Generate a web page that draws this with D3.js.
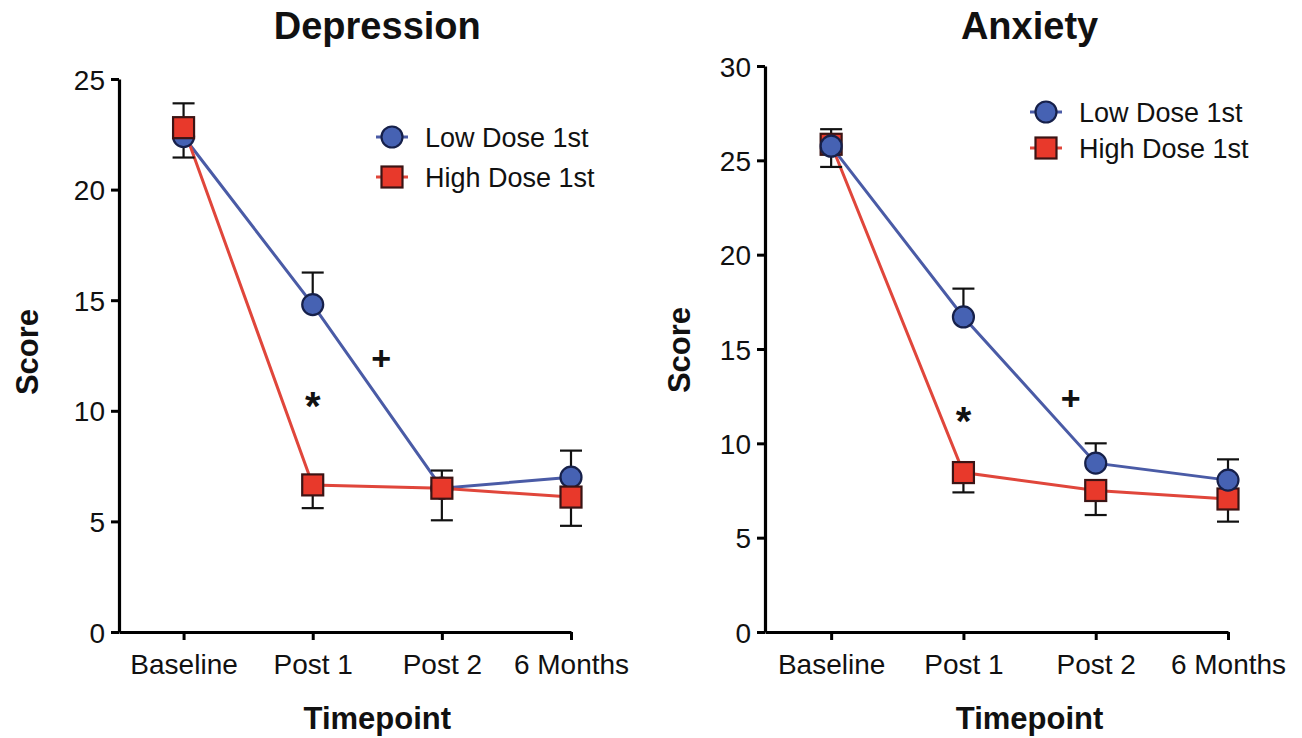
<!DOCTYPE html>
<html>
<head>
<meta charset="utf-8">
<script src="https://cdn.jsdelivr.net/npm/d3@7"></script>
<style>
  html, body { margin: 0; padding: 0; background: #fff; }
  svg { display: block; }
  text { font-family: "Liberation Sans", Arial, Helvetica, sans-serif; fill: #111; }
</style>
</head>
<body>
<svg id="chart" width="1302" height="738"></svg>
<script>
// ---------- data ----------
const timepoints = ["Baseline", "Post 1", "Post 2", "6 Months"];
const seriesNames = ["Low Dose 1st", "High Dose 1st"];

// Depression panel
const depressionLow = [22.4, 14.8, 6.5, 7.0];
const depressionLowErr = [1.5, 1.45, 0.8, 1.2];      // drawn upward
const depressionHigh = [22.8, 6.65, 6.5, 6.1];
const depressionHighErr = [1.35, 1.05, 1.45, 1.3];   // drawn downward
const depressionTicks = [0, 5, 10, 15, 20, 25];

// Anxiety panel
const anxietyLow = [25.75, 16.7, 8.95, 8.05];
const anxietyLowErr = [0.9, 1.5, 1.05, 1.1];
const anxietyHigh = [25.85, 8.45, 7.5, 7.05];
const anxietyHighErr = [1.2, 1.05, 1.3, 1.2];
const anxietyTicks = [0, 5, 10, 15, 20, 25, 30];

// significance marks: [category index position, value]
const depressionMarks = [{ label: "*", x: 1, y: 10.9 }, { label: "+", x: 1.53, y: 12.4 }];
const anxietyMarks = [{ label: "*", x: 1, y: 11.95 }, { label: "+", x: 1.81, y: 12.4 }];

// ---------- styles ----------
const BLUE_LINE = "#4a5ba6", BLUE_FILL = "#4662b3", BLUE_STROKE = "#16204a";
const RED_LINE = "#e0463b", RED_FILL = "#e8392b", RED_STROKE = "#3b1414";

const svg = d3.select("#chart");

function drawPanel(cfg) {
  const g = svg.append("g");
  const x = d3.scaleLinear().domain([-0.5, timepoints.length - 1]).range([cfg.left, cfg.right]);
  const y = d3.scaleLinear().domain([0, cfg.ymax]).range([cfg.bottom, cfg.top]);

  // axes
  const yAxis = d3.axisLeft(y).tickValues(cfg.ticks).tickSize(8).tickPadding(6).tickSizeOuter(0);
  const ya = g.append("g").attr("transform", `translate(${cfg.left},0)`).call(yAxis);
  const xAxis = d3.axisBottom(x).tickValues(d3.range(timepoints.length))
    .tickFormat(i => timepoints[i]).tickSize(8).tickPadding(12).tickSizeOuter(0);
  const xa = g.append("g").attr("transform", `translate(0,${cfg.bottom})`).call(xAxis);
  [ya, xa].forEach(a => {
    a.select(".domain").attr("stroke", "#000").attr("stroke-width", 3.2);
    a.selectAll(".tick line").attr("stroke", "#000").attr("stroke-width", 3);
    a.selectAll(".tick text").style("font-size", "28px").attr("fill", "#111")
      .style("font-family", '"Liberation Sans", Arial, sans-serif');
  });
  ya.selectAll(".tick text").attr("dy", "0.36em");
  xa.selectAll(".tick text").attr("dy", "0.78em");

  const cx0 = x(0), cx1 = x(timepoints.length - 1), cmid = (cx0 + cx1) / 2;

  // titles
  g.append("text").attr("x", cmid).attr("y", 39).attr("text-anchor", "middle")
    .style("font-size", "38px").style("font-weight", "bold").text(cfg.title);
  g.append("text").attr("x", cmid).attr("y", 729).attr("text-anchor", "middle")
    .style("font-size", "31px").style("font-weight", "bold").text("Timepoint");
  g.append("text").attr("transform", `translate(${cfg.ylabX},${cfg.ylabY}) rotate(-90)`)
    .attr("text-anchor", "middle").style("font-size", "31px").style("font-weight", "bold").text("Score");

  const series = [
    { name: seriesNames[0], vals: cfg.low, err: cfg.lowErr, dir: 1, line: BLUE_LINE, fill: BLUE_FILL, stroke: BLUE_STROKE, shape: "circle" },
    { name: seriesNames[1], vals: cfg.high, err: cfg.highErr, dir: -1, line: RED_LINE, fill: RED_FILL, stroke: RED_STROKE, shape: "square" }
  ];
  const order = cfg.redFirst ? [series[1], series[0]] : [series[0], series[1]];

  // lines
  order.forEach(s => {
    g.append("path").datum(s.vals)
      .attr("fill", "none").attr("stroke", s.line).attr("stroke-width", 3)
      .attr("d", d3.line().x((d, i) => x(i)).y(d => y(d)));
  });
  // error bars
  order.forEach(s => {
    s.vals.forEach((v, i) => {
      const ye = y(v + s.dir * s.err[i]);
      g.append("line").attr("x1", x(i)).attr("x2", x(i)).attr("y1", y(v)).attr("y2", ye)
        .attr("stroke", "#111").attr("stroke-width", 2.2);
      g.append("line").attr("x1", x(i) - 11).attr("x2", x(i) + 11).attr("y1", ye).attr("y2", ye)
        .attr("stroke", "#111").attr("stroke-width", 2.2);
    });
  });
  // markers
  order.forEach(s => {
    s.vals.forEach((v, i) => {
      if (s.shape === "circle") {
        g.append("circle").attr("cx", x(i)).attr("cy", y(v)).attr("r", 10.5)
          .attr("fill", s.fill).attr("stroke", s.stroke).attr("stroke-width", 2.2);
      } else {
        g.append("rect").attr("x", x(i) - 10.5).attr("y", y(v) - 10.5).attr("width", 21).attr("height", 21)
          .attr("fill", s.fill).attr("stroke", s.stroke).attr("stroke-width", 2.2);
      }
    });
  });

  // significance marks
  cfg.marks.forEach(m => {
    g.append("text").attr("x", x(m.x)).attr("y", y(m.y)).attr("text-anchor", "middle")
      .attr("dy", m.label === "*" ? "0.72em" : "0.36em")
      .style("font-size", m.label === "*" ? "40px" : "34px").style("font-weight", "bold").text(m.label);
  });

  // legend
  series.forEach((s, k) => {
    const ly = cfg.legY + k * cfg.legGap, lx = cfg.legX;
    g.append("line").attr("x1", lx - 16).attr("x2", lx + 16).attr("y1", ly).attr("y2", ly)
      .attr("stroke", s.line).attr("stroke-width", 3);
    if (s.shape === "circle") {
      g.append("circle").attr("cx", lx).attr("cy", ly).attr("r", 10.5)
        .attr("fill", s.fill).attr("stroke", s.stroke).attr("stroke-width", 2.2);
    } else {
      g.append("rect").attr("x", lx - 10.5).attr("y", ly - 10.5).attr("width", 21).attr("height", 21)
        .attr("fill", s.fill).attr("stroke", s.stroke).attr("stroke-width", 2.2);
    }
    g.append("text").attr("x", lx + 33).attr("y", ly).attr("dy", "0.36em")
      .style("font-size", "27px").text(s.name);
  });
}

drawPanel({
  title: "Depression", left: 119, right: 571, top: 79, bottom: 632, ymax: 25, ticks: depressionTicks,
  low: depressionLow, lowErr: depressionLowErr, high: depressionHigh, highErr: depressionHighErr,
  marks: depressionMarks, redFirst: false, ylabX: 38, ylabY: 352,
  legX: 392, legY: 137, legGap: 40
});
drawPanel({
  title: "Anxiety", left: 765, right: 1228, top: 66, bottom: 632, ymax: 30, ticks: anxietyTicks,
  low: anxietyLow, lowErr: anxietyLowErr, high: anxietyHigh, highErr: anxietyHighErr,
  marks: anxietyMarks, redFirst: true, ylabX: 690, ylabY: 350,
  legX: 1046, legY: 112, legGap: 36
});
</script>
</body>
</html>
